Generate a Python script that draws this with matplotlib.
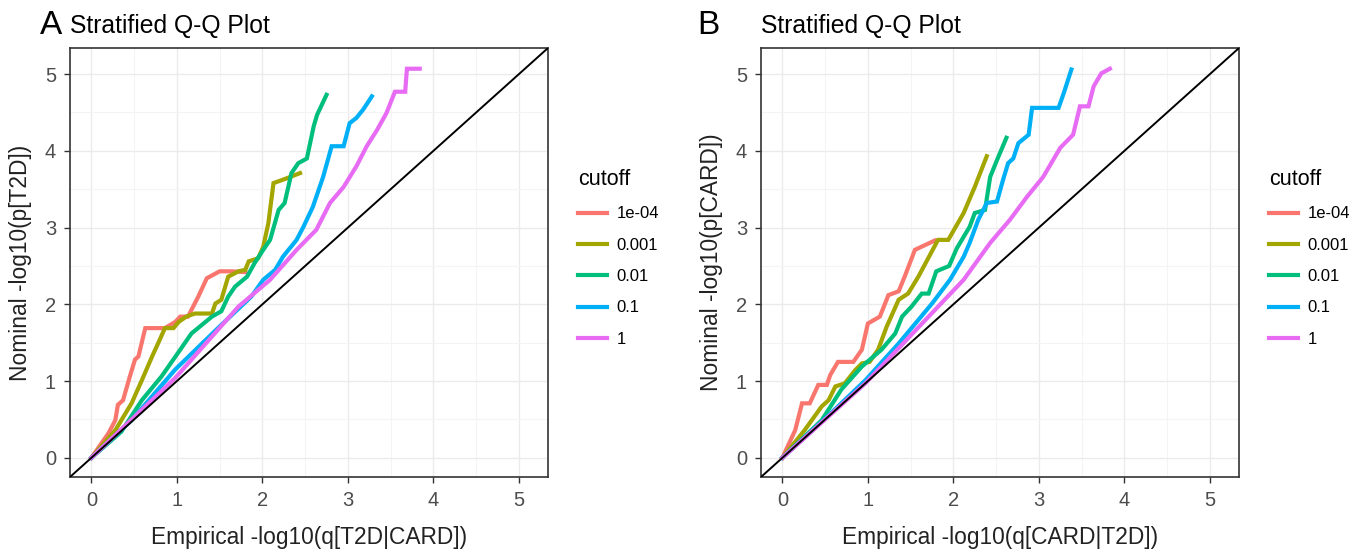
import matplotlib
matplotlib.use("Agg")
import matplotlib.pyplot as plt
from matplotlib.ticker import MultipleLocator

plt.rcParams['font.family'] = ['Liberation Sans', 'DejaVu Sans']

# cutoff levels and ggplot hue colours
cutoffs = ['1e-04', '0.001', '0.01', '0.1', '1']
colors = ['#F8766D', '#A3A500', '#00BF7D', '#00B0F6', '#E76BF3']

# Panel A: T2D | CARD   (c4 = 1e-04, c3 = 0.001, c2 = 0.01, c1 = 0.1, c0 = 1)
a_c4_x = [0, 0.20, 0.28, 0.31, 0.37, 0.45, 0.51, 0.55, 0.63, 0.86, 0.98, 1.04, 1.13, 1.19, 1.25, 1.35, 1.50, 1.64, 1.80]
a_c4_y = [0, 0.32, 0.49, 0.69, 0.75, 1.06, 1.28, 1.32, 1.69, 1.69, 1.77, 1.84, 1.84, 1.97, 2.10, 2.34, 2.43, 2.43, 2.42]
a_c3_x = [0, 0.28, 0.47, 0.59, 0.71, 0.80, 0.86, 0.96, 1.02, 1.11, 1.21, 1.41, 1.45, 1.52, 1.60, 1.72, 1.80, 1.84, 1.95, 2.01, 2.07, 2.13, 2.28, 2.44]
a_c3_y = [0, 0.36, 0.71, 1.01, 1.32, 1.54, 1.69, 1.69, 1.77, 1.84, 1.88, 1.88, 2.01, 2.06, 2.36, 2.43, 2.45, 2.56, 2.60, 2.75, 3.06, 3.58, 3.64, 3.71]
a_c2_x = [0, 0.35, 0.59, 0.82, 1.04, 1.17, 1.29, 1.41, 1.52, 1.60, 1.68, 1.82, 1.91, 2.01, 2.09, 2.19, 2.26, 2.34, 2.42, 2.52, 2.60, 2.64, 2.75]
a_c2_y = [0, 0.34, 0.75, 1.06, 1.41, 1.62, 1.73, 1.84, 1.91, 2.10, 2.23, 2.36, 2.54, 2.71, 2.84, 3.23, 3.32, 3.71, 3.84, 3.90, 4.32, 4.47, 4.73]
a_c1_x = [0, 0.47, 0.98, 1.48, 1.87, 2.01, 2.15, 2.24, 2.40, 2.48, 2.59, 2.71, 2.81, 2.95, 3.02, 3.10, 3.18, 3.28]
a_c1_y = [0, 0.49, 1.15, 1.69, 2.10, 2.32, 2.45, 2.62, 2.84, 3.01, 3.27, 3.66, 4.06, 4.06, 4.36, 4.43, 4.54, 4.71]
a_c0_x = [0, 0.98, 1.72, 2.09, 2.40, 2.63, 2.79, 2.95, 3.10, 3.22, 3.34, 3.45, 3.55, 3.67, 3.69, 3.84]
a_c0_y = [0, 1.04, 1.97, 2.32, 2.71, 2.97, 3.32, 3.53, 3.80, 4.06, 4.27, 4.49, 4.77, 4.77, 5.07, 5.07]

# Panel B: CARD | T2D
b_c4_x = [0, 0.15, 0.23, 0.32, 0.42, 0.52, 0.56, 0.65, 0.83, 0.93, 1.00, 1.14, 1.24, 1.36, 1.43, 1.55, 1.78]
b_c4_y = [0, 0.36, 0.71, 0.71, 0.95, 0.95, 1.08, 1.25, 1.25, 1.41, 1.75, 1.84, 2.12, 2.17, 2.36, 2.71, 2.83]
b_c3_x = [0, 0.26, 0.46, 0.54, 0.62, 0.73, 0.85, 0.93, 1.02, 1.12, 1.22, 1.36, 1.47, 1.59, 1.82, 1.94, 2.12, 2.25, 2.39]
b_c3_y = [0, 0.36, 0.67, 0.75, 0.93, 0.97, 1.14, 1.23, 1.25, 1.41, 1.71, 2.06, 2.14, 2.36, 2.84, 2.84, 3.19, 3.53, 3.93]
b_c2_x = [0, 0.46, 0.69, 0.93, 1.16, 1.32, 1.40, 1.51, 1.63, 1.71, 1.80, 1.95, 2.04, 2.12, 2.19, 2.25, 2.37, 2.43, 2.51, 2.62]
b_c2_y = [0, 0.49, 0.89, 1.19, 1.41, 1.62, 1.84, 1.97, 2.14, 2.14, 2.43, 2.50, 2.73, 2.88, 3.01, 3.19, 3.23, 3.66, 3.88, 4.17]
b_c1_x = [0, 0.50, 0.97, 1.36, 1.75, 1.96, 2.12, 2.19, 2.29, 2.39, 2.51, 2.58, 2.64, 2.70, 2.76, 2.88, 2.92, 3.23, 3.29, 3.38]
b_c1_y = [0, 0.51, 1.01, 1.49, 2.01, 2.32, 2.62, 2.80, 3.10, 3.32, 3.34, 3.62, 3.84, 3.90, 4.10, 4.21, 4.56, 4.56, 4.75, 5.06]
b_c0_x = [0, 0.97, 1.71, 2.12, 2.43, 2.66, 2.86, 3.05, 3.25, 3.40, 3.48, 3.58, 3.64, 3.73, 3.83]
b_c0_y = [0, 0.97, 1.84, 2.32, 2.80, 3.10, 3.40, 3.66, 4.04, 4.21, 4.58, 4.58, 4.84, 5.01, 5.07]

panels = [
    ('A', 'Nominal -log10(p[T2D])', 'Empirical -log10(q[T2D|CARD])',
     [(a_c4_x, a_c4_y), (a_c3_x, a_c3_y), (a_c2_x, a_c2_y), (a_c1_x, a_c1_y), (a_c0_x, a_c0_y)]),
    ('B', 'Nominal -log10(p[CARD])', 'Empirical -log10(q[CARD|T2D])',
     [(b_c4_x, b_c4_y), (b_c3_x, b_c3_y), (b_c2_x, b_c2_y), (b_c1_x, b_c1_y), (b_c0_x, b_c0_y)]),
]

W, H = 1366, 553
fig = plt.figure(figsize=(W / 100, H / 100), dpi=100)

ax_left = [70, 761]
legend_x = [578, 1269]
letter_x = [40, 697]
lims = (-0.25, 5.34)

for i, (letter, ylab, xlab, series) in enumerate(panels):
    ax = fig.add_axes([ax_left[i] / W, (H - 477) / H, 478 / W, 429 / H])
    for (xs, ys), lab, col in zip(series, cutoffs, colors):
        ax.plot(xs, ys, color=col, lw=3.0, label=lab, solid_joinstyle='miter')
    ax.axline((0, 0), slope=1, color='black', lw=1.4, zorder=5)

    ax.set_xlim(lims)
    ax.set_ylim(lims)
    ax.xaxis.set_major_locator(MultipleLocator(1))
    ax.yaxis.set_major_locator(MultipleLocator(1))
    ax.xaxis.set_minor_locator(MultipleLocator(0.5))
    ax.yaxis.set_minor_locator(MultipleLocator(0.5))
    ax.grid(which='major', color='#EBEBEB', lw=1.0)
    ax.grid(which='minor', color='#F4F4F4', lw=0.8)
    ax.set_axisbelow(True)
    ax.tick_params(which='minor', length=0)
    ax.tick_params(which='major', length=4, width=1, color='#333333',
                   labelsize=14.5, labelcolor='#4D4D4D', pad=6)
    for sp in ax.spines.values():
        sp.set_color('#333333')
        sp.set_linewidth(1.2)

    ax.set_xlabel(xlab, fontsize=16.4, color='#222222')
    ax.set_ylabel(ylab, fontsize=16.4, color='#222222')
    ax.xaxis.set_label_coords(0.5, -0.14)
    ax.xaxis.label.set_va('center')
    ax.yaxis.set_label_coords(-0.103, 0.5)
    ax.yaxis.label.set_va('center')

    fig.text(letter_x[i] / W, 1 - 26 / H, letter, fontsize=24, va='center', ha='left')
    fig.text(ax_left[i] / W, 1 - 26 / H, 'Stratified Q-Q Plot', fontsize=17.8, va='center', ha='left')

    leg = ax.legend(loc='upper left', bbox_to_anchor=(legend_x[i] / W, 1 - 169 / H),
                    bbox_transform=fig.transFigure, frameon=False, title='cutoff',
                    fontsize=12, title_fontsize=15.5, handlelength=1.75, handletextpad=0.55,
                    labelspacing=0.98, borderpad=0, borderaxespad=0, alignment='left')
    for line in leg.get_lines():
        line.set_linewidth(3.0)

fig.savefig('out.png', dpi=100)
